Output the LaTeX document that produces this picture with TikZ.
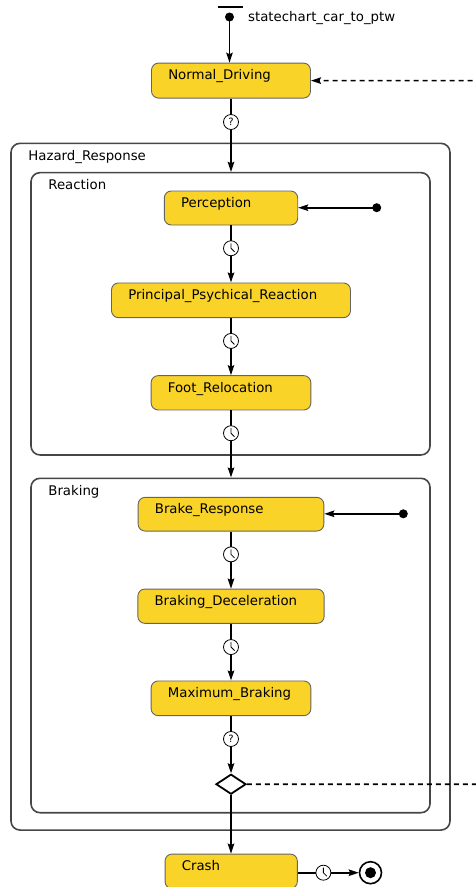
\documentclass[tikz,border=0pt]{standalone}
\usepackage{fontspec}
\setmainfont{DejaVu Sans}
\usetikzlibrary{arrows.meta,shapes.geometric,calc}
\definecolor{stateyellow}{RGB}{250,211,40}
\definecolor{stateborder}{RGB}{100,100,100}
\definecolor{boxborder}{RGB}{70,70,70}
\tikzset{
  x=1pt,y=1pt,
  every node/.style={font=\fontsize{13.3}{15}\selectfont},
  state/.style={draw=stateborder, line width=0.9pt, fill=stateyellow, rounded corners=7pt, inner sep=0pt},
  slbl/.style={anchor=base west, xshift=17pt, yshift=-17pt, inner sep=0pt},
  container/.style={draw=boxborder, line width=1.6pt, rounded corners=9pt, inner sep=0pt},
  clbl/.style={anchor=base west, xshift=18pt, yshift=-18pt, inner sep=0pt},
  trans/.style={line width=1.6pt, -{Stealth[length=10pt,width=6.5pt,inset=1.5pt]}},
  dtrans/.style={line width=1.6pt, dash pattern=on 5pt off 4pt, -{Stealth[length=10pt,width=6.5pt,inset=1.5pt]}},
  qmark/.style={circle, draw, line width=0.8pt, fill=white, minimum size=15pt, inner sep=0pt, font=\fontsize{10}{10}\selectfont, text=black},
  clock/.style={circle, draw, line width=0.8pt, fill=white, minimum size=15pt, inner sep=0pt,
    path picture={\draw[line width=0.8pt, -, line join=miter] ($(path picture bounding box.center)+(0,5pt)$) -- (path picture bounding box.center) -- ++(3.5pt,-3.5pt);}},
}
\begin{document}
\begin{tikzpicture}
\useasboundingbox (0,0) rectangle (476,-887);
% containers
\node[container, minimum width=439pt, minimum height=686.7pt,
      label={[clbl]north west:Hazard\_Response}] (haz) at (230.5,-486.7) {};
\node[container, minimum width=399pt, minimum height=282.3pt,
      label={[clbl]north west:Reaction}] (react) at (230.5,-313.8) {};
\node[container, minimum width=399pt, minimum height=334.4pt,
      label={[clbl]north west:Braking}] (braking) at (230.5,-645.5) {};
% states
\node[state, minimum width=159pt, minimum height=35pt, label={[slbl]north west:Normal\_Driving}] (nd) at (231,-80.6) {};
\node[state, minimum width=133.4pt, minimum height=34pt, label={[slbl]north west:Perception}] (perc) at (231,-208) {};
\node[state, minimum width=239pt, minimum height=34.7pt, label={[slbl]north west:Principal\_Psychical\_Reaction}] (ppr) at (231,-300.3) {};
\node[state, minimum width=159.7pt, minimum height=34.3pt, label={[slbl]north west:Foot\_Relocation}] (foot) at (231,-392.8) {};
\node[state, minimum width=185.7pt, minimum height=33.7pt, label={[slbl]north west:Brake\_Response}] (brake) at (231,-514.2) {};
\node[state, minimum width=186.3pt, minimum height=34.3pt, label={[slbl]north west:Braking\_Deceleration}] (bdec) at (231,-606.2) {};
\node[state, minimum width=159.7pt, minimum height=34.7pt, label={[slbl]north west:Maximum\_Braking}] (maxb) at (231,-698.3) {};
\node[state, minimum width=132.3pt, minimum height=34.5pt, label={[slbl]north west:Crash}] (crash) at (231.2,-871.3) {};
% pseudo states
\draw[line width=1.6pt] (217.7,-7) -- (243,-7);
\fill (229.5,-17) circle (4.5pt);
\coordinate (init) at (229.5,-17);
\node[anchor=base west, inner sep=0pt] (title) at (248,-21.5) {statechart\_car\_to\_ptw};
\fill (376.7,-207.7) circle (4.5pt);
\coordinate (rdot) at (376.7,-207.7);
\fill (403.3,-513.8) circle (4.5pt);
\coordinate (bdot) at (403.3,-513.8);
\node[diamond, draw, line width=1.8pt, fill=white, minimum width=30pt, minimum height=20pt, inner sep=0pt] (dia) at (231,-784.2) {};
\node[circle, draw, line width=1.6pt, fill=white, minimum size=22pt, inner sep=0pt] (fin) at (370.5,-872.7) {};
\fill (fin.center) circle (5.5pt);
% transitions
\draw[trans] (init) -- (init |- nd.north);
\draw[trans] (nd.south) -- node[qmark, pos=0.32] {?} (nd.south |- react.north);
\draw[trans] (rdot) -- (perc.east |- rdot);
\draw[trans] (perc.south) -- node[clock, pos=0.4] {} (ppr.north);
\draw[trans] (ppr.south) -- node[clock, pos=0.4] {} (foot.north);
\draw[trans] (foot.south) -- node[clock, pos=0.34] {} (foot.south |- braking.north);
\draw[trans] (bdot) -- (brake.east |- bdot);
\draw[trans] (brake.south) -- node[clock, pos=0.4] {} (bdec.north);
\draw[trans] (bdec.south) -- node[clock, pos=0.41] {} (maxb.north);
\draw[trans] (maxb.south) -- node[qmark, pos=0.4] {?} (dia.north);
\draw[trans] (dia.south) -- (dia.south |- crash.north);
\draw[trans] (crash.east |- fin) -- node[clock, pos=0.42] {} (fin.west);
\draw[dtrans, rounded corners=8pt] (dia.east) -- (484,-784.2) |- (nd.east);
\end{tikzpicture}
\end{document}
